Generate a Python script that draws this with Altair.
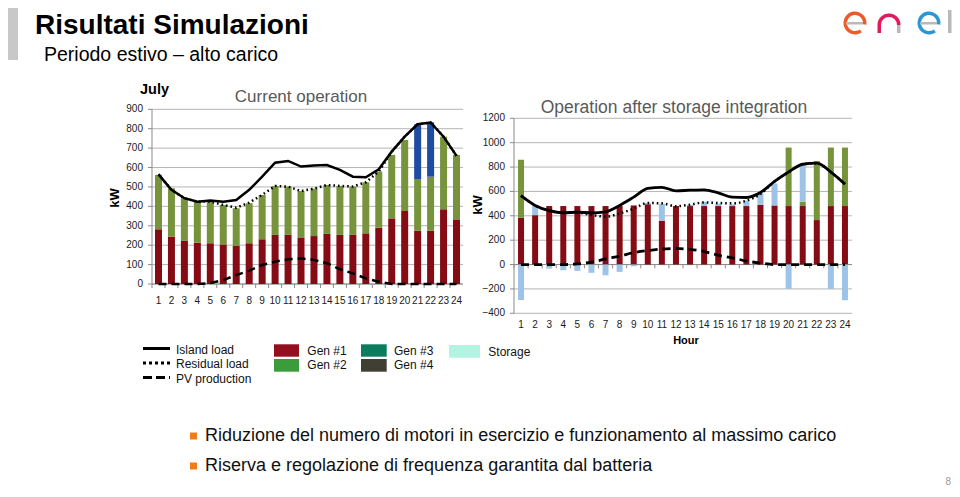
import altair as alt
import pandas as pd

FONT = "Liberation Sans"

hours = list(range(1, 25))

# ---- Current operation (left panel), kW ----
left_gen1 = [282, 244, 222, 213, 210, 204, 196, 210, 230, 253, 253, 240,
             247, 258, 253, 253, 261, 290, 338, 376, 275, 275, 385, 333]
left_gen2 = [280, 249, 220, 211, 214, 203, 194, 206, 229, 252, 249, 239,
             244, 252, 252, 249, 263, 289, 327, 366, 266, 278, 374, 332]
left_gen3 = [0, 0, 0, 0, 0, 0, 0, 0, 0, 0, 0, 0,
             0, 0, 0, 0, 0, 0, 0, 0, 282, 280, 0, 0]

# ---- Operation after storage integration (right panel), kW ----
right_gen1 = [385, 405, 480, 480, 480, 480, 480, 480, 485, 495, 360, 480,
              480, 480, 480, 480, 480, 490, 485, 480, 480, 365, 480, 480]
right_gen2 = [475, 0, 0, 0, 0, 0, 0, 0, 0, 0, 0, 0,
              0, 0, 0, 0, 0, 0, 0, 480, 35, 485, 480, 480]
right_storage = [-290, 75, -33, -47, -52, -68, -88, -60, -14, 10, 140, 0,
                 10, 35, 20, 15, 45, 95, 180, -200, 300, 0, -200, -293]

# ---- Loads (both panels), kW ----
island_load = [565, 485, 442, 424, 430, 424, 433, 485, 553, 625, 634, 605,
               610, 613, 588, 553, 550, 591, 682, 759, 823, 832, 759, 660]
residual_load = [565, 485, 442, 424, 425, 407, 393, 419, 459, 505, 502, 479,
                 491, 510, 505, 502, 524, 579, 682, 759, 823, 832, 759, 660]
pv_production = [0, 0, 0, 0, 5, 20, 46, 69, 98, 115, 127, 132,
                 124, 107, 76, 55, 29, 12, 0, 0, 0, 0, 0, 0]

left_ticks = [0, 100, 200, 300, 400, 500, 600, 700, 800, 900]
right_ticks = [-400, -200, 0, 200, 400, 600, 800, 1000, 1200]

line_labels = ["Island load", "Residual load", "PV production"]
gen_labels = ["Gen #1", "Gen #2", "Gen #3", "Gen #4", "Storage"]
bullets = [
    "Riduzione del numero di motori in esercizio e funzionamento al massimo carico",
    "Riserva e regolazione di frequenza garantita dal batteria",
]

# colours
RED = "#850B14"
GREEN = "#77933C"
BLUE = "#1F4CA3"
LIGHTBLUE = "#9DC3E6"
GRID = "#B4B4B4"
AXIS = "#8A8A8A"
LABEL = "#1a1a1a"


def stack_df(series):
    rows = []
    for k, (name, vals) in enumerate(series):
        for h, v in zip(hours, vals):
            if v != 0:
                rows.append({"hour": h, "series": name, "value": v, "ord": k})
    return pd.DataFrame(rows)


left_df = stack_df([("Gen #1", left_gen1), ("Gen #2", left_gen2), ("Gen #3", left_gen3)])
right_df = stack_df([("Gen #1", right_gen1), ("Gen #2", right_gen2), ("Storage", right_storage)])
lines_df = pd.DataFrame({"hour": hours, "island": island_load,
                         "residual": residual_load, "pv": pv_production})
hours_df = pd.DataFrame({"hour": hours})


def build_panel(df, color_domain, color_range, ticks, XS, YS, x0, x1, ytop, ybot,
                ylab_x, xlab_y, bar_size, interp, lw, zero_ticks_y):
    grid = alt.Chart(pd.DataFrame({"v": ticks})).mark_rule(color=GRID, strokeWidth=1).encode(
        y=alt.Y("v:Q", scale=YS, axis=None), x=alt.value(x0), x2=alt.value(x1))
    zero = alt.Chart(pd.DataFrame({"v": [0]})).mark_rule(color=AXIS, strokeWidth=1).encode(
        y=alt.Y("v:Q", scale=YS, axis=None), x=alt.value(x0), x2=alt.value(x1))
    ydom = alt.Chart(pd.DataFrame({"v": [0]})).mark_rule(color=AXIS, strokeWidth=1).encode(
        x=alt.value(x0), y=alt.value(ytop), y2=alt.value(ybot))
    yticks = alt.Chart(pd.DataFrame({"v": ticks})).mark_rule(color=AXIS, strokeWidth=1).encode(
        y=alt.Y("v:Q", scale=YS, axis=None), x=alt.value(x0 - 4), x2=alt.value(x0))
    ylabels = alt.Chart(pd.DataFrame({"v": ticks})).mark_text(
        align="right", baseline="middle", font=FONT, fontSize=10, color=LABEL).encode(
        y=alt.Y("v:Q", scale=YS, axis=None), x=alt.value(ylab_x), text=alt.Text("v:Q", format="d"))
    xticks = alt.Chart(hours_df).mark_rule(color=AXIS, strokeWidth=1).encode(
        x=alt.X("hour:O", scale=XS, axis=None, bandPosition=0),
        y=alt.value(zero_ticks_y), y2=alt.value(zero_ticks_y + 4))
    xlabels = alt.Chart(hours_df).mark_text(
        align="center", baseline="middle", font=FONT, fontSize=10, color=LABEL).encode(
        x=alt.X("hour:O", scale=XS, axis=None), y=alt.value(xlab_y), text="hour:N")
    bars = alt.Chart(df).mark_bar(size=bar_size).encode(
        x=alt.X("hour:O", scale=XS, axis=None),
        y=alt.Y("value:Q", scale=YS, stack="zero", axis=None),
        color=alt.Color("series:N", scale=alt.Scale(domain=color_domain, range=color_range),
                        legend=None),
        order=alt.Order("ord:Q"),
    )
    base = alt.Chart(lines_df).encode(x=alt.X("hour:O", scale=XS, axis=None))
    pv = base.mark_line(color="black", strokeWidth=lw, strokeDash=[8, 5],
                        interpolate=interp).encode(y=alt.Y("pv:Q", scale=YS, axis=None))
    res = base.mark_line(color="black", strokeWidth=2.5, strokeDash=[1.6, 3],
                         interpolate=interp).encode(y=alt.Y("residual:Q", scale=YS, axis=None))
    isl = base.mark_line(color="black", strokeWidth=lw,
                         interpolate=interp).encode(y=alt.Y("island:Q", scale=YS, axis=None))
    return alt.layer(grid, zero, ydom, yticks, ylabels, xticks, xlabels, bars, pv, res, isl)


# ---------------- left panel ----------------
LX = alt.Scale(type="band", domain=hours, range=[144, 455], paddingInner=0, paddingOuter=0)
LY = alt.Scale(domain=[0, 900], range=[276, 101.3], nice=False, zero=False)
left_panel = build_panel(left_df, ["Gen #1", "Gen #2", "Gen #3"], [RED, GREEN, BLUE],
                         left_ticks, LX, LY, 144, 455, 101.3, 276, 135, 293, 7,
                         "linear", 2.5, 276)

# ---------------- right panel ----------------
RX = alt.Scale(type="band", domain=hours, range=[506, 844], paddingInner=0, paddingOuter=0)
RY = alt.Scale(domain=[-400, 1200], range=[305.3, 110.3], nice=False, zero=False)
right_panel = build_panel(right_df, ["Gen #1", "Gen #2", "Storage"], [RED, GREEN, LIGHTBLUE],
                          right_ticks, RX, RY, 506, 844, 110.3, 305.3, 497, 317, 6,
                          "monotone", 2.8, 256.3)

# ---------------- decorations (slide text, legend, logo) ----------------
ONE = pd.DataFrame({"t": [""]})


def text(s, x, y, size, color="#111111", weight="normal", align="left",
         baseline="middle", angle=0, font=FONT):
    return alt.Chart(pd.DataFrame({"t": [s]})).mark_text(
        x=x, y=y, fontSize=size, color=color, fontWeight=weight, align=align,
        baseline=baseline, angle=angle, font=font).encode(text="t:N")


def rect(x, x2, y, y2, color):
    return alt.Chart(ONE).mark_rect(color=color).encode(
        x=alt.value(x), x2=alt.value(x2), y=alt.value(y), y2=alt.value(y2))


def hline(x, x2, y, dash=None, width=3):
    kw = dict(color="black", strokeWidth=width)
    if dash:
        kw["strokeDash"] = dash
    return alt.Chart(ONE).mark_rule(**kw).encode(
        x=alt.value(x), x2=alt.value(x2), y=alt.value(y))


def ring(cx, cy, r_out, r_in, t0, t1, color):
    return alt.Chart(ONE).mark_arc(color=color).encode(
        x=alt.value(cx), y=alt.value(cy), radius=alt.value(r_out), radius2=alt.value(r_in),
        theta=alt.value(t0), theta2=alt.value(t1))


logo = [
    # e (orange-red)
    ring(847, 15, 11.5, 8, 2.5, 8.0, "#EE5A2A"),
    rect(838, 855, 14, 16.5, "#B9B9B9"),
    # n (magenta arch, legs)
    ring(881, 17, 11.5, 8, 4.712, 7.854, "#E3195C"),
    rect(869.5, 873, 17, 25, "#E3195C"),
    rect(889, 892.5, 17, 25, "#B9B9B9"),
    # e (blue)
    ring(921, 15, 11.5, 8, 2.5, 8.0, "#2A96D8"),
    rect(912, 929, 14, 16.5, "#B9B9B9"),
    # l
    rect(940, 943.5, 2, 25, "#B9B9B9"),
]

decos = [
    rect(0, 10, 0, 52, "#C8C8C8"),
    text("Risultati Simulazioni", 27, 26, 28, color="#000000", weight="bold", baseline="alphabetic"),
    text("Periodo estivo – alto carico", 36, 52.5, 19.5, color="#000000", baseline="alphabetic"),
    text("July", 132, 82, 14.5, color="#000000", weight="bold"),
    text("Current operation", 293, 89, 17, color="#595959", align="center"),
    text("Operation after storage integration", 666, 99.7, 17.5, color="#595959", align="center"),
    text("kW", 106.5, 190, 13, color="#000000", weight="bold", align="center", angle=270),
    text("kW", 469.5, 197, 13, color="#000000", weight="bold", align="center", angle=270),
    text("Hour", 678, 333, 11, color="#000000", weight="bold", align="center"),
    # legend: lines
    hline(135, 162, 340.5),
    hline(135, 162, 355, dash=[3, 3]),
    hline(135, 162, 369.5, dash=[9, 4]),
    text(line_labels[0], 168, 342, 12),
    text(line_labels[1], 168, 356, 12),
    text(line_labels[2], 168, 370.5, 12),
    # legend: boxes
    rect(266, 291, 336.3, 348.7, "#930E1E"),
    rect(266, 291, 351, 363.7, "#3C9B3A"),
    rect(353, 378.7, 336.3, 348.7, "#0B7D5E"),
    rect(353, 378.7, 351, 363.7, "#3F4033"),
    rect(441, 472, 337, 349.7, "#B3F3E1"),
    text(gen_labels[0], 299.3, 342.5, 12),
    text(gen_labels[1], 299.3, 357.3, 12),
    text(gen_labels[2], 386, 342.5, 12),
    text(gen_labels[3], 386, 357.3, 12),
    text(gen_labels[4], 480.3, 343.7, 12),
    # bullets
    rect(182, 189, 424.5, 431.5, "#F07D1A"),
    rect(182, 189, 454.5, 461.5, "#F07D1A"),
    text(bullets[0], 197, 428, 18),
    text(bullets[1], 197, 458, 18),
    text("8", 943, 479, 10, color="#9A9A9A", align="right", baseline="bottom"),
]

chart = alt.layer(left_panel, right_panel, *logo, *decos).resolve_scale(
    x="independent", y="independent", color="independent"
).properties(
    width=944, height=481, autosize=alt.AutoSizeParams(type="none"), padding=0,
    background="white",
).configure_view(stroke=None)

chart.save("out.html", embed_options={"renderer": "svg", "actions": False})
